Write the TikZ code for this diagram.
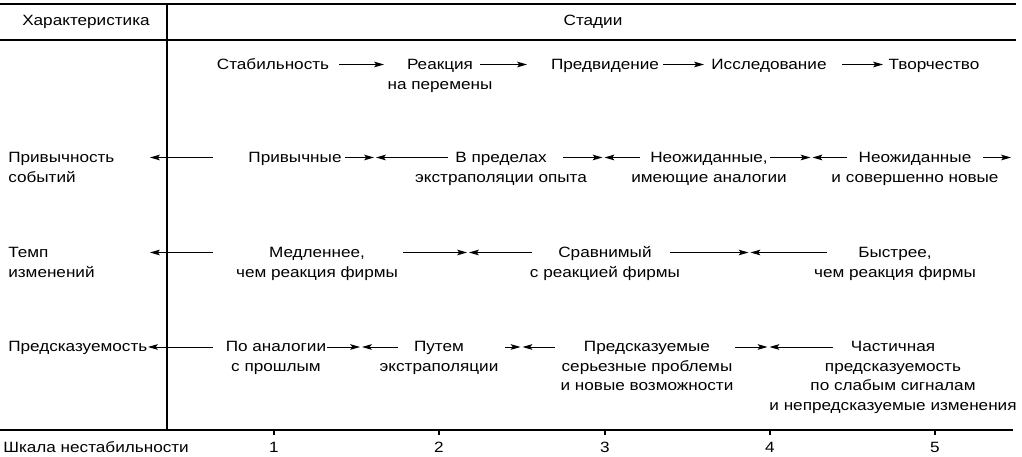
\documentclass[tikz,border=0pt]{standalone}
\usepackage{fontspec}
\setmainfont{Liberation Sans}[FakeStretch=1.15]
\usetikzlibrary{arrows.meta}

\tikzset{
  txt/.style={anchor=base, align=center, inner sep=0pt, font=\fontsize{10.6}{13.9}\selectfont},
  ltxt/.style={txt, anchor=base west, align=left},
  arr/.style={-{Stealth[length=7pt,width=4pt,inset=1.5pt]}, line width=0.7pt},
  meet/.style={arr, shorten >=0.7pt},
  rule/.style={line width=1.1pt}
}

\begin{document}
\begin{tikzpicture}[x=0.025cm,y=-0.025cm]
\useasboundingbox (0,0) rectangle (1022,457);
% table frame
\draw[rule] (0,4) -- (1016,4);
\draw[rule] (0,40) -- (1016,40);
\draw[rule] (0,430) -- (1013,430);
\draw[line width=1.3pt] (167,4) -- (167,430);
\draw[line width=0.8pt] (274,430) -- (274,435);
\draw[line width=0.8pt] (439,430) -- (439,435);
\draw[line width=0.8pt] (605,430) -- (605,435);
\draw[line width=0.8pt] (770,430) -- (770,435);
\draw[line width=0.8pt] (935,430) -- (935,435);
% head
\node[ltxt] (hchar) at (22,25.5) {Характеристика};
\node[txt] (hstage) at (593,25.5) {Стадии};
% stages (base = last line)
\node[txt] (st1) at (273,70) {Стабильность};
\node[txt] (st2) at (440,89.5) {Реакция\\на перемены};
\node[txt] (st3) at (605,70) {Предвидение};
\node[txt] (st4) at (769,70) {Исследование};
\node[txt] (st5) at (934,70) {Творчество};
\coordinate (s1a) at (339,64.5); \coordinate (s1b) at (384,64.5);
\coordinate (s2a) at (480,64.5); \coordinate (s2b) at (527,64.5);
\coordinate (s3a) at (663,64.5); \coordinate (s3b) at (704,64.5);
\coordinate (s4a) at (842,64.5); \coordinate (s4b) at (883,64.5);
\draw[arr] (s1a) -- (s1b);
\draw[arr] (s2a) -- (s2b);
\draw[arr] (s3a) -- (s3b);
\draw[arr] (s4a) -- (s4b);
% familiarity of events
\node[ltxt] (ev0) at (8,182.5) {Привычность\\событий};
\node[txt] (ev1) at (295,163) {Привычные};
\node[txt] (ev2) at (501,182.5) {В пределах\\экстраполяции опыта};
\node[txt] (ev3) at (709,182.5) {Неожиданные,\\имеющие аналогии};
\node[txt] (ev4) at (915,182.5) {Неожиданные\\и совершенно новые};
\coordinate (e0a) at (213,157.5); \coordinate (e0b) at (150,157.5);
\coordinate (e1a) at (345,157.5); \coordinate (e1b) at (375,157.5); \coordinate (e1c) at (448,157.5);
\coordinate (e2a) at (563,157.5); \coordinate (e2b) at (603.5,157.5); \coordinate (e2c) at (640,157.5);
\coordinate (e3a) at (770,157.5); \coordinate (e3b) at (811.5,157.5); \coordinate (e3c) at (847,157.5);
\coordinate (e4a) at (983,157.5); \coordinate (e4b) at (1011,157.5);
\draw[arr] (e0a) -- (e0b);
\draw[meet] (e1a) -- (e1b); \draw[meet] (e1c) -- (e1b);
\draw[meet] (e2a) -- (e2b); \draw[meet] (e2c) -- (e2b);
\draw[meet] (e3a) -- (e3b); \draw[meet] (e3c) -- (e3b);
\draw[arr] (e4a) -- (e4b);
% rate of change
\node[ltxt] (tp0) at (8,277.5) {Темп\\изменений};
\node[txt] (tp1) at (317,277.5) {Медленнее,\\чем реакция фирмы};
\node[txt] (tp2) at (605,277.5) {Сравнимый\\с реакцией фирмы};
\node[txt] (tp3) at (895,277.5) {Быстрее,\\чем реакция фирмы};
\coordinate (t0a) at (213,252.5); \coordinate (t0b) at (150,252.5);
\coordinate (t1a) at (403,252.5); \coordinate (t1b) at (468,252.5); \coordinate (t1c) at (532,252.5);
\coordinate (t2a) at (670,252.5); \coordinate (t2b) at (749.5,252.5); \coordinate (t2c) at (827,252.5);
\draw[arr] (t0a) -- (t0b);
\draw[meet] (t1a) -- (t1b); \draw[meet] (t1c) -- (t1b);
\draw[meet] (t2a) -- (t2b); \draw[meet] (t2c) -- (t2b);
% predictability
\node[ltxt] (pr0) at (8,352) {Предсказуемость};
\node[txt] (pr1) at (276,371.5) {По аналогии\\с прошлым};
\node[txt] (pr2) at (439,371.5) {Путем\\экстраполяции};
\node[txt] (pr3) at (647,391) {Предсказуемые\\серьезные проблемы\\и новые возможности};
\node[txt] (pr4) at (893,410.5) {Частичная\\предсказуемость\\по слабым сигналам\\и непредсказуемые изменения};
\coordinate (p0a) at (213,347); \coordinate (p0b) at (148,347);
\coordinate (p1a) at (327,347); \coordinate (p1b) at (361,347); \coordinate (p1c) at (398,347);
\coordinate (p2a) at (505,347); \coordinate (p2b) at (521.5,347); \coordinate (p2c) at (555,347);
\coordinate (p3a) at (735,347); \coordinate (p3b) at (768.5,347); \coordinate (p3c) at (833,347);
\draw[arr] (p0a) -- (p0b);
\draw[meet] (p1a) -- (p1b); \draw[meet] (p1c) -- (p1b);
\draw[meet] (p2a) -- (p2b); \draw[meet] (p2c) -- (p2b);
\draw[meet] (p3a) -- (p3b); \draw[meet] (p3c) -- (p3b);
% scale
\node[ltxt] (scl) at (3,453) {Шкала нестабильности};
\node[txt] (n1) at (274,453) {1};
\node[txt] (n2) at (439,453) {2};
\node[txt] (n3) at (605,453) {3};
\node[txt] (n4) at (770,453) {4};
\node[txt] (n5) at (935,453) {5};
\end{tikzpicture}
\end{document}
